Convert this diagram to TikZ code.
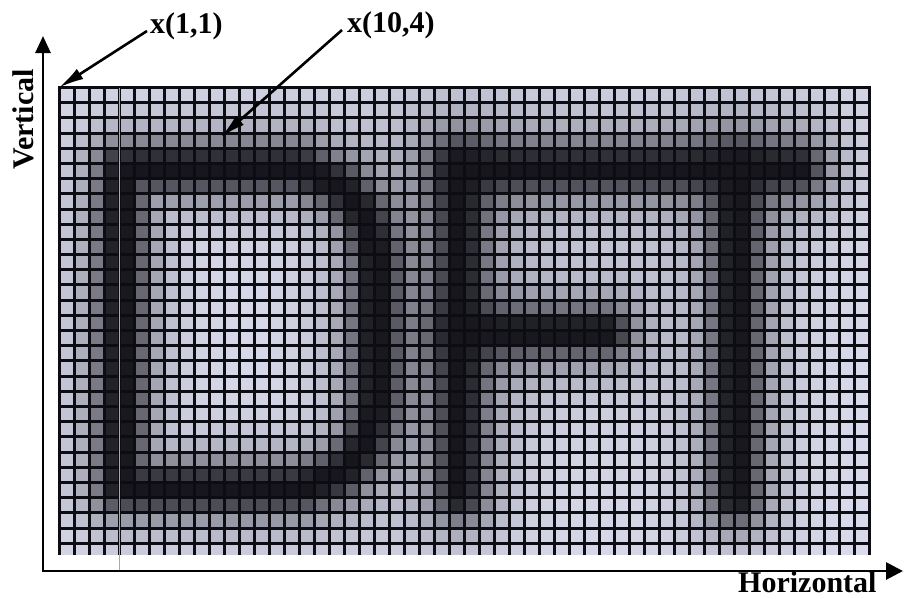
\documentclass[tikz,border=0pt]{standalone}
\usepackage{fontspec}
\setmainfont{Liberation Serif}
\usetikzlibrary{arrows.meta}
\definecolor{lav}{RGB}{222,223,240}
\definecolor{ink}{RGB}{22,22,28}
\definecolor{gridc}{RGB}{12,12,18}
\definecolor{scanline}{RGB}{178,178,96}

% distance (squared, in cell units) from cell centre (\myC,\myR) to a segment
\newcommand\mySeg[4]{%
  \edef\myT{\fpeval{max(0,min(1,((\myC-(#1))*((#3)-(#1))+(\myR-(#2))*((#4)-(#2)))/(((#3)-(#1))^2+((#4)-(#2))^2)))}}%
  \edef\myD{\fpeval{(\myC-(#1)-\myT*((#3)-(#1)))^2+(\myR-(#2)-\myT*((#4)-(#2)))^2}}}
\newcommand\myVseg[3]{% x, y1, y2
  \edef\myD{\fpeval{(\myC-(#1))^2+(max((#2)-\myR,0,\myR-(#3)))^2}}}
\newcommand\myHseg[3]{% y, x1, x2
  \edef\myD{\fpeval{(\myR-(#1))^2+(max((#2)-\myC,0,\myC-(#3)))^2}}}
\newcommand\myMin{\edef\myDmin{\fpeval{min(\myDmin,\myD)}}}
\newcommand\myKof[1]{\fpeval{1/(1+(max(sqrt(#1)-0.2,0)/1.4)^2.2)}}

\tikzset{
  gridline/.style={line width=3pt, draw=gridc},
  axisline/.style={line width=2.8pt, draw=black},
  lbl/.style={font=\bfseries\fontsize{30}{30}\selectfont, inner sep=0pt, text=black},
  lblarrow/.style={line width=2.6pt, draw=black, -{Latex[length=25pt,width=12pt]}},
}

\begin{document}
\begin{tikzpicture}[x=1pt,y=-1pt]
\useasboundingbox (0,0) rectangle (904,598);
\fill[white] (0,0) rectangle (904,598);

% shaded cells (blurred letters D F T)
\foreach \myC in {1,...,54}{%
  \foreach \myR in {1,...,31}{%
    \myVseg{4.6}{5.8}{26.9}\let\myDmin\myD
    \myHseg{5.8}{4.6}{16.5}\myMin
    \mySeg{16.5}{5.8}{19.2}{7.0}\myMin
    \mySeg{19.2}{7.0}{20.9}{9.0}\myMin
    \mySeg{20.9}{9.0}{21.6}{11.5}\myMin
    \myVseg{21.6}{11.5}{21.5}\myMin
    \mySeg{21.6}{21.5}{20.9}{24.0}\myMin
    \mySeg{20.9}{24.0}{19.2}{26.0}\myMin
    \mySeg{19.2}{26.0}{16.5}{26.9}\myMin
    \myHseg{26.9}{4.6}{16.5}\myMin
    \edef\myKD{\myKof{\myDmin}}%
    \myVseg{27.2}{5.8}{27.3}\edef\myKF{\myKof{\myD}}%
    \myHseg{5.8}{27.2}{49.8}\edef\myKTop{\myKof{\myD}}%
    \myHseg{16.6}{27.2}{37.0}\edef\myKMid{\myKof{\myD}}%
    \myVseg{45.6}{5.8}{27.6}\edef\myKT{\myKof{\myD}}%
    \edef\myP{\fpeval{round(100*(1-(1-\myKD)*(1-\myKF)*(1-\myKTop)*(1-\myKMid)*(1-\myKT)))}}%
    \edef\myXa{\fpeval{59+15*(\myC-1)}}\edef\myXb{\fpeval{59+15*\myC}}%
    \edef\myYa{\fpeval{87.5+15.19*(\myR-1)}}\edef\myYb{\fpeval{min(87.5+15.19*\myR,555)}}%
    \fill[ink!\myP!lav] (\myXa,\myYa) rectangle (\myXb,\myYb);
  }}

% grid lines
\foreach \k in {0,...,54}
  \draw[gridline] ({59+15*\k},86) -- ({59+15*\k},555);
\foreach \k in {0,...,30}
  \draw[gridline, line cap=rect] (59,{87.5+15.19*\k}) -- (869,{87.5+15.19*\k});

% faint scan line
\draw[scanline, line width=1pt] (119.3,88) -- (119.3,570);

% axes
\coordinate (ytop) at (43,36);
\coordinate (xend) at (903,571);
\draw[axisline, {Triangle[length=17pt,width=15pt]}-{Triangle[length=17pt,width=17pt]}] (ytop) |- (xend);

% labels
\node[lbl, anchor=base west] (l11) at (150,33) {x(1,1)};
\node[lbl, anchor=base west] (l104) at (347,32) {x(10,4)};
\node[lbl, anchor=base west] (lh) at (738,592) {Horizontal};
\node[lbl, anchor=base west, rotate=90] (lv) at (33,170) {Vertical};

\coordinate (c11) at (59,87.5);
\coordinate (c104) at (221,137);
\draw[lblarrow] ([xshift=-3pt,yshift=2pt]l11.base west) -- (c11);
\draw[lblarrow] ([xshift=-5pt,yshift=2pt]l104.base west) -- (c104);
\end{tikzpicture}
\end{document}
